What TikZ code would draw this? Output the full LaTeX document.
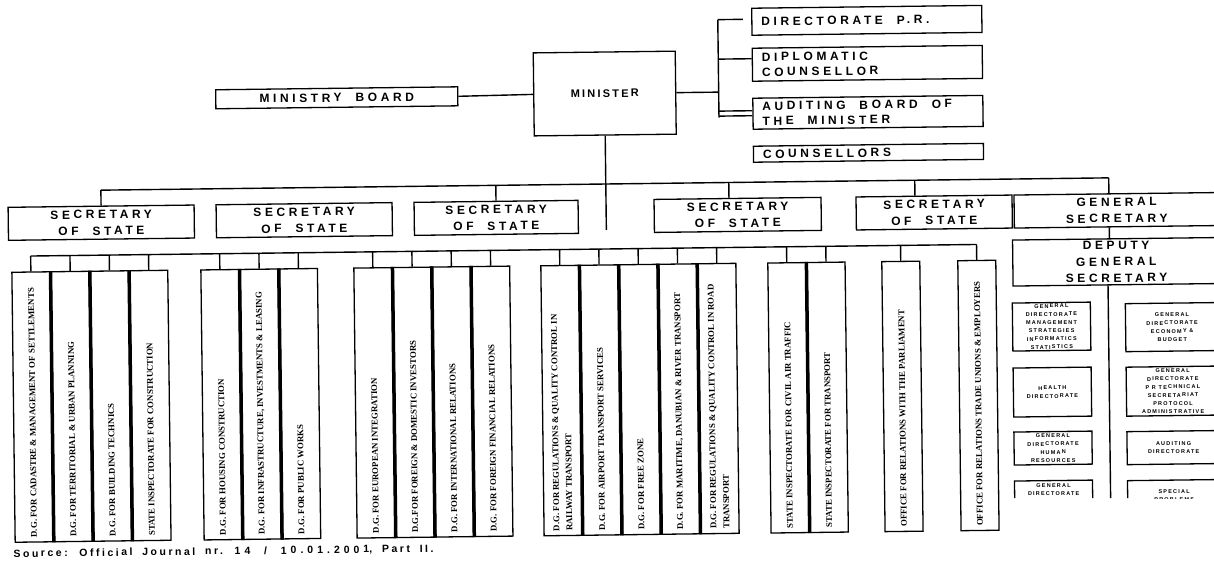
\documentclass[tikz,border=0pt]{standalone}
\usepackage{fontspec}
\usepackage{tikz}
\usetikzlibrary{positioning,calc}
\newfontfamily\labelfont[LetterSpace=30,WordSpace=2]{Liberation Sans}
\newfontfamily\ministerfont[LetterSpace=20]{Liberation Sans}
\newfontfamily\dgfont{Liberation Serif}
\newfontfamily\dirfont[LetterSpace=22]{Liberation Sans}
\newfontfamily\srcfont[LetterSpace=24,WordSpace=1.8]{Liberation Sans}
\newfontfamily\srcnumfont[LetterSpace=38,WordSpace=2]{Liberation Sans}

\begin{document}
\begin{tikzpicture}[x=1pt,y=-1pt,
  link/.style={line width=1.4pt},
  sep/.style={line width=3.5pt},
  topbox/.style={draw, line width=1.3pt, minimum width=230pt, inner sep=0pt},
  toptext/.style={anchor=west, inner sep=0pt, align=left,
    font=\labelfont\bfseries\fontsize{12}{15}\selectfont},
  secbox/.style={draw, line width=1.3pt, inner sep=0pt, align=center, minimum height=33pt,
    font=\labelfont\bfseries\fontsize{12}{16.5}\selectfont},
  dgbox/.style={draw, line width=1.3pt, minimum width=38pt, minimum height=270pt, inner sep=0pt},
  dgtext/.style={rotate=90, anchor=west, inner sep=0pt, align=left,
    font=\dgfont\bfseries\fontsize{8.8}{13}\selectfont},
  dirbox/.style={draw, line width=1.3pt, inner sep=0pt, align=center,
    font=\dirfont\bfseries\fontsize{5.5}{8.2}\selectfont}]

\useasboundingbox (0,0) rectangle (1214,560);
\fill[white] (0,0) rectangle (1214,560);

\begin{scope}
% page cut off at the lower right
\clip (0,0) -- (1214,0) -- (1214,498) -- (1005,498) -- (1005,560) -- (0,560) -- cycle;
\begin{scope}[rotate around={0.7:(607,280)}, transform shape]

% minister and advisers
\node[secbox, minimum width=142pt, minimum height=83pt, font=\ministerfont\bfseries\fontsize{11}{13}\selectfont] (minister) at (607,93.5) {MINISTER};
\node[secbox, minimum width=242pt, minimum height=19pt] (board) at (339,94.5) {MINISTRY BOARD};
\draw[link] (board.east) -- (minister.west);

\node[topbox, minimum height=27pt] (dpr) at (870,23.5) {};
\node[topbox, minimum height=33pt] (dipl) at (870,66.5) {};
\node[topbox, minimum height=31pt] (audit) at (870,115.5) {};
\node[topbox, minimum height=16pt] (couns) at (870,156) {};
\node[toptext] (tdpr) at ([xshift=10pt]dpr.west) {DIRECTORATE P.R.};
\node[toptext] (tdipl) at ([xshift=10pt]dipl.west) {DIPLOMATIC\\COUNSELLOR};
\node[toptext] (taudit) at ([xshift=10pt]audit.west) {AUDITING BOARD OF\\THE MINISTER};
\node[toptext] (tcouns) at ([xshift=10pt]couns.west) {COUNSELLORS};

% crochet
\coordinate (brtop) at (721,21);
\coordinate (brbot) at (721,119);
\coordinate (prstub) at (746,21);
\draw[link] (brtop) -- (brbot);
\draw[link] (minister.east) -- ($(brtop)!(minister.east)!(brbot)$);
\draw[link] (brtop) -- (prstub);
\draw[link] ($(brtop)!([yshift=6pt]dipl.west)!(brbot)$) -- ([yshift=6pt]dipl.west);
\draw[link] ($(brtop)!([yshift=3pt]audit.west)!(brbot)$) -- ([yshift=3pt]audit.west);
\draw[link] ($(brtop)!([yshift=-2pt]audit.west)!(brbot)$) -- ([yshift=-2pt]audit.west);

% secretaries
\node[secbox, minimum width=186pt] (s1) at (102,216.5) {SECRETARY\\OF STATE};
\node[secbox, minimum width=176pt] (s2) at (305,216.5) {SECRETARY\\OF STATE};
\node[secbox, minimum width=164pt] (s3) at (497,216.5) {SECRETARY\\OF STATE};
\node[secbox, minimum width=167pt] (s4) at (738.5,216.5) {SECRETARY\\OF STATE};
\node[secbox, minimum width=156pt] (s5) at (935,216.5) {SECRETARY\\OF STATE};
\node[secbox, minimum width=205pt] (gs) at (1117.5,216.5) {GENERAL\\SECRETARY};
\node[secbox, minimum width=207pt, minimum height=46pt] (dgs) at (1116.5,268) {DEPUTY\\GENERAL\\SECRETARY};

\coordinate (mend) at (607,230);
\draw[link] (minister.south) -- (mend);
\coordinate (busL) at (102,184);
\coordinate (busR) at (1110,184);
\coordinate (d4) at (730,184);
\coordinate (d5) at (916,184);
\draw[link] (busL) -- (busR);
\draw[link] (busL) -- (s1.north);
\draw[link] ($(busL)!(s3.north)!(busR)$) -- (s3.north);
\draw[link] (d4) -- ($(s4.north west)!(d4)!(s4.north east)$);
\draw[link] (d5) -- ($(s5.north west)!(d5)!(s5.north east)$);
\draw[link] (busR) -- ($(gs.north west)!(busR)!(gs.north east)$);
\draw[link] ($(gs.south west)!(busR)!(gs.south east)$) -- ($(dgs.north west)!(busR)!(dgs.north east)$);

% general directorates
\node[dgbox] (g1a) at (31,400) {};
\node[dgbox, right=0pt of g1a] (g1b) {};
\node[dgbox, right=0pt of g1b] (g1c) {};
\node[dgbox, right=0pt of g1c] (g1d) {};

\node[dgbox] (g2a) at (220,400) {};
\node[dgbox, right=0pt of g2a] (g2b) {};
\node[dgbox, right=0pt of g2b] (g2c) {};

\node[dgbox] (g3a) at (373,400) {};
\node[dgbox, right=0pt of g3a] (g3b) {};
\node[dgbox, right=0pt of g3b] (g3c) {};
\node[dgbox, right=0pt of g3c] (g3d) {};

\node[dgbox] (g4a) at (560,400) {};
\node[dgbox, right=0pt of g4a] (g4b) {};
\node[dgbox, right=0pt of g4b] (g4c) {};
\node[dgbox, right=0pt of g4c] (g4d) {};
\node[dgbox, right=0pt of g4d] (g4e) {};

\node[dgbox] (g5a) at (787,400) {};
\node[dgbox, right=0pt of g5a] (g5b) {};

\node[dgbox] (g6a) at (901,400) {};
\node[dgbox] (g7a) at (977,400) {};

\draw[sep] (g1a.north east) -- (g1a.south east) (g1b.north east) -- (g1b.south east) (g1c.north east) -- (g1c.south east);
\draw[sep] (g2a.north east) -- (g2a.south east) (g2b.north east) -- (g2b.south east);
\draw[sep] (g3a.north east) -- (g3a.south east) (g3b.north east) -- (g3b.south east) (g3c.north east) -- (g3c.south east);
\draw[sep] (g4a.north east) -- (g4a.south east) (g4b.north east) -- (g4b.south east) (g4c.north east) -- (g4c.south east) (g4d.north east) -- (g4d.south east);
\draw[sep] (g5a.north east) -- (g5a.south east);

\node[dgtext] (t1a) at ([yshift=5pt]g1a.south) {D.G. FOR CADASTRE \& MANAGEMENT OF SETTLEMENTS};
\node[dgtext] (t1b) at ([yshift=5pt]g1b.south) {D.G. FOR TERRITORIAL \& URBAN PLANNING};
\node[dgtext] (t1c) at ([yshift=5pt]g1c.south) {D.G. FOR BUILDING TECHNICS};
\node[dgtext] (t1d) at ([yshift=5pt]g1d.south) {STATE INSPECTORATE FOR CONSTRUCTION};
\node[dgtext] (t2a) at ([yshift=5pt]g2a.south) {D.G. FOR HOUSING CONSTRUCTION};
\node[dgtext] (t2b) at ([yshift=5pt]g2b.south) {D.G. FOR INFRASTRUCTURE, INVESTMENTS \& LEASING};
\node[dgtext] (t2c) at ([yshift=5pt]g2c.south) {D.G. FOR PUBLIC WORKS};
\node[dgtext] (t3a) at ([yshift=5pt]g3a.south) {D.G. FOR EUROPEAN INTEGRATION};
\node[dgtext] (t3b) at ([yshift=5pt]g3b.south) {D.G.FOR FOREIGN \& DOMESTIC INVESTORS};
\node[dgtext] (t3c) at ([yshift=5pt]g3c.south) {D.G. FOR INTERNATIONAL RELATIONS};
\node[dgtext] (t3d) at ([yshift=5pt]g3d.south) {D.G. FOR FOREIGN FINANCIAL RELATIONS};
\node[dgtext] (t4a) at ([yshift=5pt]g4a.south) {D.G. FOR REGULATIONS \& QUALITY CONTROL IN\\RAILWAY TRANSPORT};
\node[dgtext] (t4b) at ([yshift=5pt]g4b.south) {D.G. FOR AIRPORT TRANSPORT SERVICES};
\node[dgtext] (t4c) at ([yshift=5pt]g4c.south) {D.G. FOR FREE ZONE};
\node[dgtext] (t4d) at ([yshift=5pt]g4d.south) {D.G. FOR MARITIME, DANUBIAN \& RIVER TRANSPORT};
\node[dgtext] (t4e) at ([yshift=5pt]g4e.south) {D.G. FOR REGULATIONS \& QUALITY CONTROL IN ROAD\\TRANSPORT};
\node[dgtext] (t5a) at ([yshift=5pt]g5a.south) {STATE INSPECTORATE FOR CIVIL AIR TRAFFIC};
\node[dgtext] (t5b) at ([yshift=5pt]g5b.south) {STATE INSPECTORATE FOR TRANSPORT};
\node[dgtext] (t6a) at ([yshift=5pt]g6a.south) {OFFICE FOR RELATIONS WITH THE PARLIAMENT};
\node[dgtext] (t7a) at ([yshift=5pt]g7a.south) {OFFICE FOR RELATIONS TRADE UNIONS \& EMPLOYERS};

% barre des directions
\coordinate (gl) at (31,249);
\coordinate (gr) at (977,249);
\draw[link] (gl) -- (gr);
\draw[link] (g1a.north) -- ($(gl)!(g1a.north)!(gr)$) (g1b.north) -- ($(gl)!(g1b.north)!(gr)$)
  (g1c.north) -- ($(gl)!(g1c.north)!(gr)$) (g1d.north) -- ($(gl)!(g1d.north)!(gr)$);
\draw[link] (g2a.north) -- ($(gl)!(g2a.north)!(gr)$) (g2b.north) -- ($(gl)!(g2b.north)!(gr)$)
  (g2c.north) -- ($(gl)!(g2c.north)!(gr)$);
\draw[link] (g3a.north) -- ($(gl)!(g3a.north)!(gr)$) (g3b.north) -- ($(gl)!(g3b.north)!(gr)$)
  (g3c.north) -- ($(gl)!(g3c.north)!(gr)$) (g3d.north) -- ($(gl)!(g3d.north)!(gr)$);
\draw[link] (g4a.north) -- ($(gl)!(g4a.north)!(gr)$) (g4b.north) -- ($(gl)!(g4b.north)!(gr)$)
  (g4c.north) -- ($(gl)!(g4c.north)!(gr)$) (g4d.north) -- ($(gl)!(g4d.north)!(gr)$)
  (g4e.north) -- ($(gl)!(g4e.north)!(gr)$);
\draw[link] (g5a.north) -- ($(gl)!(g5a.north)!(gr)$) (g5b.north) -- ($(gl)!(g5b.north)!(gr)$);
\draw[link] (g6a.north) -- ($(gl)!(g6a.north)!(gr)$) (g7a.north) -- (gr);

% general secretary directorates
\node[dirbox, minimum width=78pt, minimum height=48pt] (dman) at (1051,332) {GENERAL\\DIRECTORATE\\MANAGEMENT\\STRATEGIES\\INFORMATICS\\STATISTICS};
\node[dirbox, minimum width=78pt, minimum height=49pt] (dhealth) at (1051,397.5) {HEALTH\\DIRECTORATE};
\node[dirbox, minimum width=78pt, minimum height=33pt] (dhr) at (1051,453.5) {GENERAL\\DIRECTORATE\\HUMAN\\RESOURCES};
\node[dirbox, minimum width=78pt, minimum height=26pt] (dlegal) at (1051,499) {GENERAL\\DIRECTORATE\\LEGAL};
\node[dirbox, minimum width=93pt, minimum height=48pt] (deco) at (1171.5,334) {GENERAL\\DIRECTORATE\\ECONOMY \&\\BUDGET};
\node[dirbox, minimum width=93pt, minimum height=49pt] (dtech) at (1171.5,398) {GENERAL\\DIRECTORATE\\P R TECHNICAL\\SECRETARIAT\\PROTOCOL\\ADMINISTRATIVE};
\node[dirbox, minimum width=93pt, minimum height=33pt] (daudit) at (1171.5,454.5) {AUDITING\\DIRECTORATE};
\node[dirbox, minimum width=93pt, minimum height=31pt] (dspecial) at (1171.5,502.5) {SPECIAL\\PROBLEMS};

\coordinate (dvert) at (1108,545);
\draw[link] ($(dgs.south west)!(dvert)!(dgs.south east)$) -- (dvert);

% source
\node[anchor=base west, inner sep=0pt, font=\srcfont\bfseries\fontsize{10.5}{12}\selectfont] (src) at (10,550)
  {Source: Official Journal nr. {\srcnumfont 14 / 10.01.2001}, Part II.};

\end{scope}
\end{scope}
\end{tikzpicture}
\end{document}
